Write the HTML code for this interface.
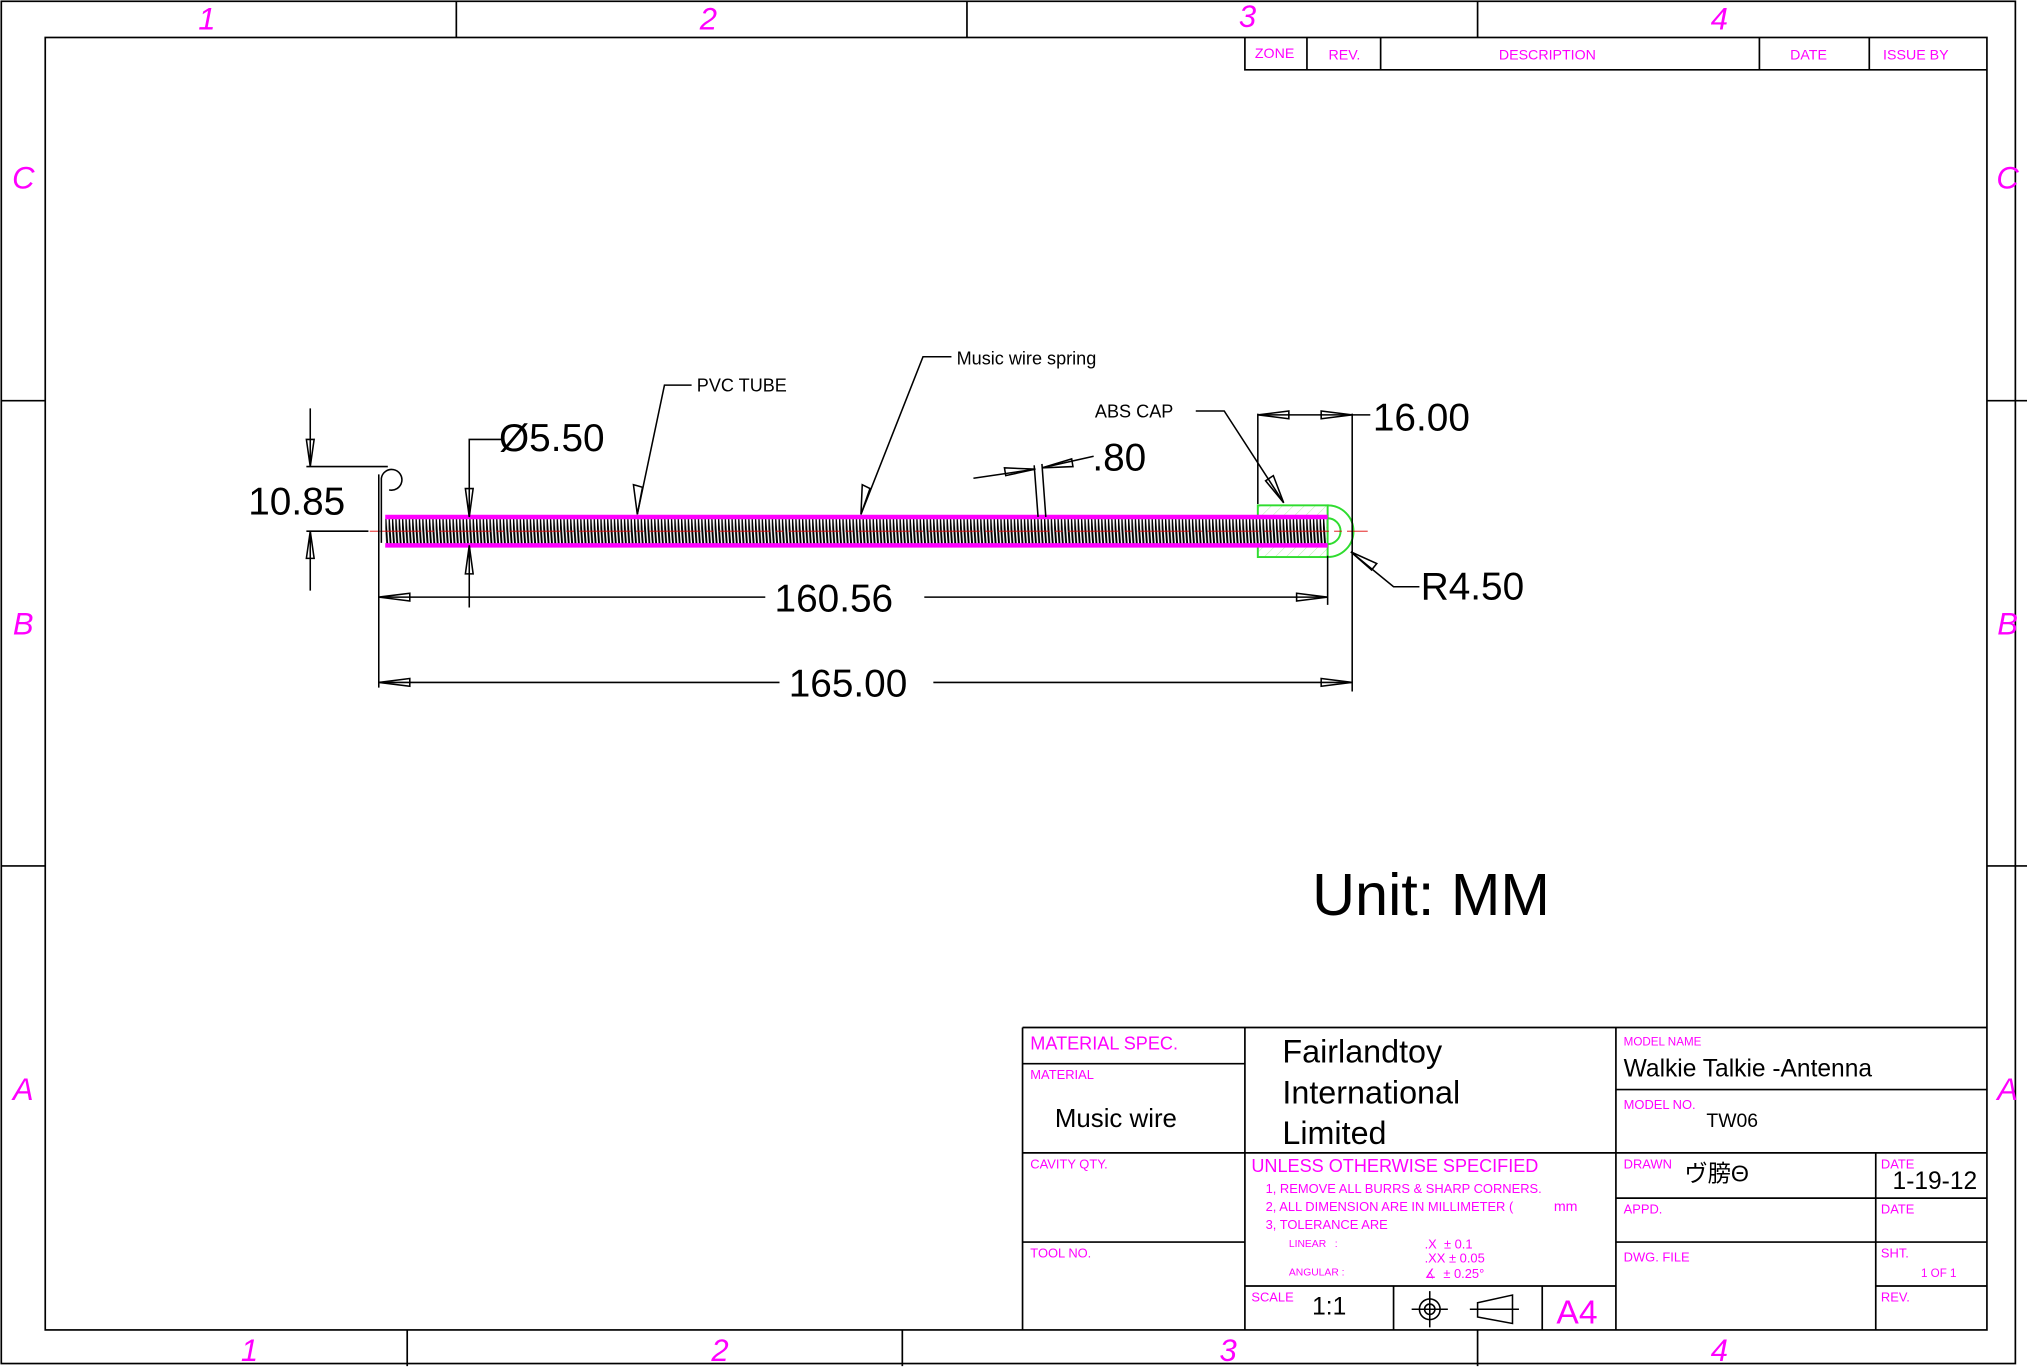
<!DOCTYPE html>
<html><head><meta charset="utf-8"><style>
html,body{margin:0;padding:0;background:#fff}
svg{display:block}
text{font-family:"Liberation Sans Narrow","Liberation Sans","Noto Sans CJK JP",sans-serif}
.m{fill:#ff00ff}
</style></head><body>
<svg width="2027" height="1370" viewBox="0 0 1568 1060" preserveAspectRatio="none" xmlns="http://www.w3.org/2000/svg">
<defs>
<pattern id="coil" patternUnits="userSpaceOnUse" width="2.6" height="20" x="298" y="401">
<rect width="2.6" height="20" fill="#fff"/>
<line x1="0.2" y1="0" x2="1.6" y2="20" stroke="#000" stroke-width="1.5"/>
</pattern>
<pattern id="hat" patternUnits="userSpaceOnUse" width="6" height="6" patternTransform="rotate(45)">
<line x1="0" y1="0" x2="0" y2="6" stroke="#b8f0b0" stroke-width="0.8"/>
</pattern>
</defs>
<rect width="1568" height="1060" fill="#fff"/>
<g fill="none" stroke="#000" stroke-width="1.3">
<rect x="1" y="1" width="1558" height="1054"/>
<rect x="35" y="29" width="1502" height="1000"/>
<path d="M353 1V29M748 1V29M1143 1V29M315 1029V1057M698 1029V1057M1143 1029V1057M1 310H35M1 670H35M1537 310H1568M1537 670H1568"/>
<path d="M963 29V54H1537M1011 29V54M1068 29V54M1361 29V54M1446 29V54"/>
<path d="M791 795H1537M791 795V1029M963 795V1029M1250 795V1029M791 823H963M791 892H1537M791 961H963M963 995H1250M1078 995V1029M1193 995V1029M1250 843H1537M1250 927H1537M1250 961H1537M1451 892V1029M1451 995H1537"/>
</g>
<g class="m" font-style="italic" font-size="24" text-anchor="middle">
<text x="160" y="23">1</text><text x="548" y="23">2</text><text x="965" y="21">3</text><text x="1330" y="23">4</text>
<text x="193" y="1053">1</text><text x="557" y="1053">2</text><text x="950" y="1053">3</text><text x="1330" y="1053">4</text>
<text x="18" y="146">C</text><text x="18" y="491">B</text><text x="18" y="851">A</text>
<text x="1553" y="146">C</text><text x="1553" y="491">B</text><text x="1553" y="851">A</text>
</g>
<g class="m" font-size="11" text-anchor="middle">
<text x="986" y="45">ZONE</text><text x="1040" y="46">REV.</text><text x="1197" y="46">DESCRIPTION</text><text x="1399" y="46">DATE</text><text x="1482" y="46">ISSUE BY</text>
</g>
<g class="m">
<text x="797" y="812" font-size="14">MATERIAL SPEC.</text>
<text x="797" y="835" font-size="10">MATERIAL</text>
<text x="797" y="904" font-size="10">CAVITY QTY.</text>
<text x="797" y="973" font-size="10">TOOL NO.</text>
<text x="968" y="907" font-size="14">UNLESS OTHERWISE SPECIFIED</text>
<text x="979" y="923" font-size="10">1, REMOVE ALL BURRS &amp; SHARP CORNERS.</text>
<text x="979" y="937" font-size="10">2, ALL DIMENSION ARE IN MILLIMETER (</text>
<text x="1202" y="937" font-size="11">mm</text>
<text x="979" y="951" font-size="10">3, TOLERANCE ARE</text>
<text x="997" y="965" font-size="8">LINEAR &#160;&#160;:</text>
<text x="997" y="987" font-size="8">ANGULAR :</text>
<text x="1102" y="966" font-size="10">.X &#160;± 0.1</text>
<text x="1102" y="977" font-size="10">.XX ± 0.05</text>
<text x="1102" y="989" font-size="10">∡ &#160;± 0.25°</text>
<text x="968" y="1007" font-size="10">SCALE</text>
<text x="1204" y="1024" font-size="26">A4</text>
<text x="1256" y="809" font-size="9">MODEL NAME</text>
<text x="1256" y="858" font-size="10">MODEL NO.</text>
<text x="1256" y="904" font-size="10">DRAWN</text>
<text x="1455" y="904" font-size="10">DATE</text>
<text x="1256" y="939" font-size="10">APPD.</text>
<text x="1455" y="939" font-size="10">DATE</text>
<text x="1256" y="976" font-size="10">DWG. FILE</text>
<text x="1455" y="973" font-size="10">SHT.</text>
<text x="1486" y="988" font-size="9">1 OF 1</text>
<text x="1455" y="1007" font-size="10">REV.</text>
</g>
<g fill="#000">
<text x="816" y="872" font-size="20" font-family="Liberation Sans">Music wire</text>
<text x="992" y="822" font-size="25" font-family="Liberation Sans">Fairlandtoy</text>
<text x="992" y="854" font-size="25" font-family="Liberation Sans">International</text>
<text x="992" y="885" font-size="25" font-family="Liberation Sans">Limited</text>
<text x="1256" y="833" font-size="19" font-family="Liberation Sans">Walkie Talkie -Antenna</text>
<text x="1320" y="872" font-size="15" font-family="Liberation Sans">TW06</text>
<text x="1303" y="914" font-size="18" font-family="Noto Serif CJK SC,serif">ヴ膀Θ</text>
<text x="1464" y="920" font-size="19" font-family="Liberation Serif">1-19-12</text>
<text x="1015" y="1017" font-size="19" font-family="Liberation Serif">1:1</text>
<text x="1015" y="708" font-size="46" font-family="Liberation Sans">Unit: MM</text>
</g>
<g fill="none" stroke="#000" stroke-width="1.2">
<circle cx="1106" cy="1013" r="8"/><circle cx="1106" cy="1013" r="4"/>
<path d="M1092 1013H1120M1106 999V1027M1137 1013H1175M1143 1008L1170 1002V1024L1143 1019Z"/>
</g>
<rect x="973" y="391" width="54" height="40" fill="url(#hat)" stroke="#2fdc2f" stroke-width="1.5"/>
<path d="M1027 391A20 20 0 0 1 1027 431" fill="none" stroke="#2fdc2f" stroke-width="1.5"/>
<path d="M1027 401A10 10 0 0 1 1027 421" fill="none" stroke="#2fdc2f" stroke-width="1.5"/>
<rect x="298" y="401" width="728" height="20" fill="url(#coil)"/>
<path d="M298 400H1027M298 422H1027" stroke="#ff00ff" stroke-width="3.5"/>
<path d="M286 411H1058" stroke="#e00000" stroke-width="0.7" stroke-dasharray="40 4 6 4"/>
<g fill="none" stroke="#000" stroke-width="1.2">
<path d="M295 420V370 A8 8 0 1 1 301 379"/>
<path d="M237 361H300M237 411H285M240 316V361M240 457V411"/>
<path d="M240 361L237 340H243Z M240 411L237 432H243Z"/>
<path d="M363 400V340H388M363 470V422"/>
<path d="M363 400L360 378H366Z M363 422L360 444H366Z"/>
<path d="M493 398L514 298H535"/><path d="M493 398L490 375L497 377Z"/>
<path d="M666 398L714 276H736"/><path d="M666 398L667 375L673 378Z"/>
<path d="M925 318H947L993 389"/><path d="M993 389L979 372L985 368Z"/>
<path d="M973 320V390M1046 320V535M973 321H1060"/>
<path d="M973 321L997 318V324Z M1046 321L1022 318V324Z"/>
<path d="M800 360L803 400M806 359L809 400M753 370L801 363M806 362L846 353"/>
<path d="M801 363L777 362L778 368Z M806 362L829 355L830 361Z"/>
<path d="M1045 427L1078 454H1098"/><path d="M1045 427L1065 436L1061 441Z"/>
<path d="M293 367V532M1027 430V468"/>
<path d="M293 462H592M715 462H1027M293 528H603M722 528H1046"/>
<path d="M293 462L317 459V465Z M1027 462L1003 459V465Z M293 528L317 525V531Z M1046 528L1022 525V531Z"/>
</g>
<g fill="#000" font-family="Liberation Sans">
<text x="192" y="398" font-size="30">10.85</text>
<text x="386" y="349" font-size="30">Ø5.50</text>
<text x="539" y="303" font-size="14">PVC TUBE</text>
<text x="740" y="282" font-size="14">Music wire spring</text>
<text x="847" y="323" font-size="14">ABS CAP</text>
<text x="1062" y="333" font-size="30">16.00</text>
<text x="845" y="364" font-size="30">.80</text>
<text x="1099" y="464" font-size="30">R4.50</text>
<text x="645" y="473" font-size="30" text-anchor="middle">160.56</text>
<text x="656" y="539" font-size="30" text-anchor="middle">165.00</text>
</g>
</svg>
</body></html>
